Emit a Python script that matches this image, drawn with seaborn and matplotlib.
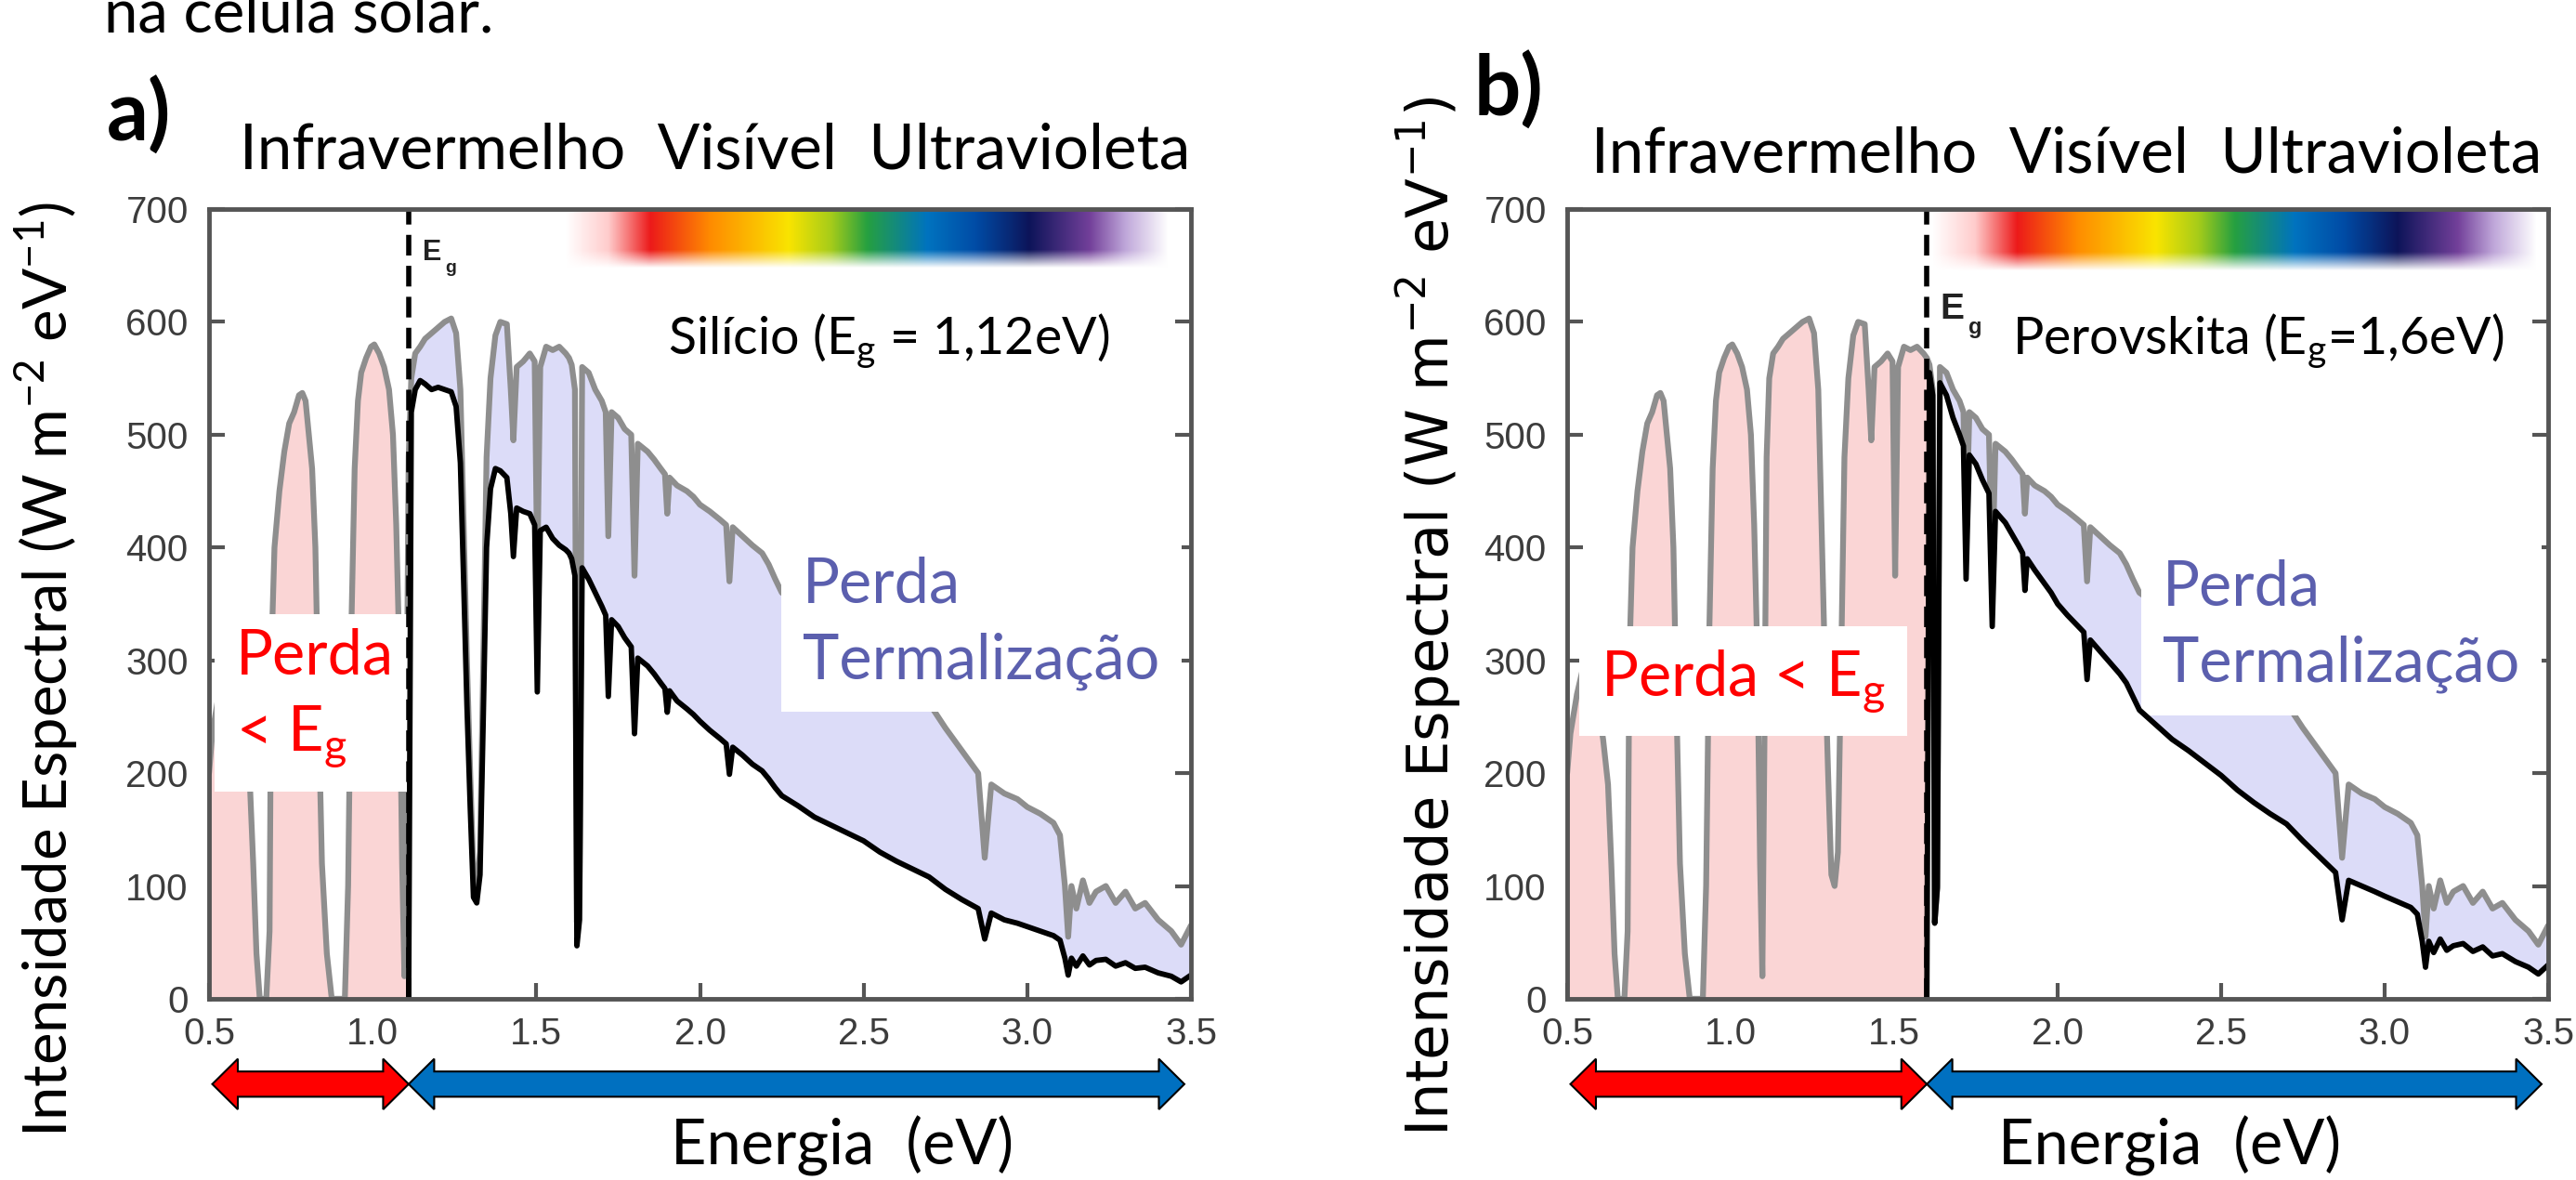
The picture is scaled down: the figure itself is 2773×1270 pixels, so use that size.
import numpy as np
import matplotlib
matplotlib.use("Agg")
import matplotlib.pyplot as plt
import matplotlib.transforms as mtransforms
from matplotlib.patches import Polygon
from matplotlib.colors import to_rgb
import seaborn as sns

# ---------------- data ----------------
ENERGY = np.array([
    0.500, 0.510, 0.530, 0.550, 0.570, 0.590, 0.610, 0.625, 0.635, 0.645,
    0.655, 0.675, 0.685, 0.690, 0.700, 0.715, 0.730, 0.745, 0.760, 0.775,
    0.785, 0.795, 0.805, 0.815, 0.825, 0.835, 0.845, 0.860, 0.875, 0.915,
    0.925, 0.935, 0.945, 0.955, 0.965, 0.980, 0.995, 1.005, 1.020, 1.035,
    1.050, 1.062, 1.072, 1.082, 1.090, 1.097, 1.104, 1.110, 1.118, 1.130,
    1.145, 1.160, 1.180, 1.200, 1.220, 1.240, 1.255, 1.268, 1.278, 1.288,
    1.298, 1.308, 1.318, 1.328, 1.338, 1.348, 1.360, 1.375, 1.390, 1.410,
    1.422, 1.430, 1.440, 1.460, 1.480, 1.495, 1.503, 1.512, 1.530, 1.550,
    1.570, 1.590, 1.600, 1.608, 1.618, 1.624, 1.632, 1.640, 1.660, 1.680,
    1.700, 1.712, 1.720, 1.730, 1.750, 1.770, 1.790, 1.800, 1.810, 1.840,
    1.860, 1.880, 1.893, 1.900, 1.907, 1.930, 1.960, 1.980, 2.000, 2.030,
    2.060, 2.080, 2.090, 2.100, 2.130, 2.160, 2.190, 2.210, 2.230, 2.250,
    2.300, 2.350, 2.400, 2.450, 2.500, 2.550, 2.600, 2.650, 2.700, 2.750,
    2.800, 2.850, 2.870, 2.890, 2.930, 2.970, 3.000, 3.040, 3.080, 3.100,
    3.115, 3.125, 3.135, 3.150, 3.170, 3.190, 3.210, 3.240, 3.270, 3.300,
    3.330, 3.360, 3.400, 3.440, 3.470, 3.500,
])

# incident solar spectrum (grey curve), same in both panels
GRAY = np.array([
    200, 235, 270, 295, 290, 268, 230, 190, 120, 40,
    0, 0, 60, 300, 400, 450, 485, 510, 520, 535,
    537, 530, 500, 470, 400, 250, 120, 40, 0, 0,
    100, 330, 470, 530, 555, 568, 578, 580, 572, 560,
    540, 500, 420, 300, 120, 20, 250, 480, 550, 572,
    578, 585, 590, 595, 600, 603, 590, 540, 420, 300,
    200, 110, 100, 130, 300, 480, 550, 588, 600, 598,
    540, 495, 560, 565, 572, 565, 375, 560, 578, 575,
    578, 572, 568, 562, 540, 68, 100, 560, 555, 540,
    530, 520, 410, 520, 515, 505, 500, 375, 492, 485,
    478, 470, 465, 430, 462, 455, 450, 445, 438, 432,
    425, 420, 370, 418, 410, 402, 395, 385, 372, 360,
    350, 338, 330, 320, 310, 295, 283, 272, 262, 240,
    220, 200, 125, 190, 182, 177, 170, 164, 156, 145,
    100, 55, 100, 80, 105, 85, 95, 100, 85, 95,
    80, 85, 70, 60, 48, 65,
], dtype=float)

nan = np.nan
# usable part for silicon (black curve, panel a)
BLACK_A = np.array([
    nan, nan, nan, nan, nan, nan, nan, nan, nan, nan,
    nan, nan, nan, nan, nan, nan, nan, nan, nan, nan,
    nan, nan, nan, nan, nan, nan, nan, nan, nan, nan,
    nan, nan, nan, nan, nan, nan, nan, nan, nan, nan,
    nan, nan, nan, nan, nan, nan, nan, 0, 520, 540,
    548, 545, 540, 542, 540, 538, 525, 475, 370, 260,
    170, 90, 85, 110, 250, 400, 452, 470, 468, 462,
    430, 392, 435, 432, 430, 420, 272, 415, 418, 408,
    402, 398, 395, 390, 375, 47, 70, 382, 372, 360,
    348, 340, 268, 336, 330, 320, 312, 235, 302, 295,
    288, 280, 275, 254, 273, 264, 257, 252, 246, 238,
    231, 226, 199, 223, 216, 208, 202, 195, 187, 180,
    171, 161, 154, 147, 140, 130, 122, 115, 108, 97,
    88, 80, 53, 76, 70, 67, 64, 60, 56, 52,
    36, 21, 36, 29, 38, 30, 34, 35, 29, 32,
    27, 28, 23, 20, 15, 21,
])

# usable part for perovskite (black curve, panel b)
BLACK_B = np.array([
    nan, nan, nan, nan, nan, nan, nan, nan, nan, nan,
    nan, nan, nan, nan, nan, nan, nan, nan, nan, nan,
    nan, nan, nan, nan, nan, nan, nan, nan, nan, nan,
    nan, nan, nan, nan, nan, nan, nan, nan, nan, nan,
    nan, nan, nan, nan, nan, nan, nan, nan, nan, nan,
    nan, nan, nan, nan, nan, nan, nan, nan, nan, nan,
    nan, nan, nan, nan, nan, nan, nan, nan, nan, nan,
    nan, nan, nan, nan, nan, nan, nan, nan, nan, nan,
    nan, nan, 0, 555, 535, 67, 98, 546, 535, 515,
    500, 490, 372, 482, 474, 460, 448, 330, 432, 422,
    412, 402, 395, 362, 390, 380, 368, 360, 350, 340,
    331, 325, 283, 318, 308, 298, 288, 280, 268, 256,
    243, 230, 220, 209, 198, 185, 174, 164, 155, 140,
    126, 112, 70, 105, 100, 95, 91, 86, 81, 75,
    51, 28, 51, 41, 53, 43, 47, 49, 42, 46,
    38, 40, 33, 28, 22, 30,
])

EG_A = 1.11          # band gap line, silicon
EG_B = 1.60          # band gap line, perovskite
X_TICKS = [0.5, 1.0, 1.5, 2.0, 2.5, 3.0, 3.5]
Y_TICKS = [0, 100, 200, 300, 400, 500, 600, 700]
X_TICK_LABELS = ["0.5", "1.0", "1.5", "2.0", "2.5", "3.0", "3.5"]
Y_TICK_LABELS = ["0", "100", "200", "300", "400", "500", "600", "700"]

# ---------------- style ----------------
sns.set_style("white")
plt.rcParams["font.family"] = ["Lato", "DejaVu Sans"]
plt.rcParams["mathtext.fontset"] = "custom"
plt.rcParams["mathtext.rm"] = "Lato"
plt.rcParams["mathtext.it"] = "Lato:italic"
plt.rcParams["mathtext.bf"] = "Lato:bold"

C_GRAY = "#8e8e8e"
C_PINK = "#fad5d5"
C_LAV = "#dcdcf8"
C_BLUE_TXT = "#5b5fae"
C_SPINE = "#555555"
C_TICK_TXT = "#3c3c3c"

W, H = 2773, 1270
fig = plt.figure(figsize=(W / 100, H / 100), dpi=100)
fig.patch.set_facecolor("white")


def fig_rect(l, t, r, b):
    return [l / W, 1 - b / H, (r - l) / W, (b - t) / H]


ax_a = fig.add_axes(fig_rect(225, 225, 1282, 1075))
ax_b = fig.add_axes(fig_rect(1687, 225, 2743, 1075))

# spectrum colour bar
SPEC_STOPS = [0.00, 0.07, 0.14, 0.24, 0.37, 0.44, 0.50, 0.60, 0.68, 0.77, 0.87, 0.93, 1.00]
SPEC_COLS = ["#ffffff", "#ffcccc", "#ec1a1a", "#ff8c00", "#f9e400", "#a6cc1a",
             "#26a040", "#0073bf", "#004ca6", "#0d1459", "#73409a", "#c0a8da", "#ffffff"]


def spectrum_image(ncols=600, nrows=40):
    pos = np.linspace(0, 1, ncols)
    cols = np.array([to_rgb(c) for c in SPEC_COLS])
    rgb = np.stack([np.interp(pos, SPEC_STOPS, cols[:, k]) for k in range(3)], axis=-1)
    img = np.ones((nrows, ncols, 4))
    img[:, :, :3] = rgb[None, :, :]
    rows = np.linspace(0, 1, nrows)
    alpha = np.clip((1.0 - rows) / 0.3, 0, 1)
    img[:, :, 3] = alpha[:, None]
    return img


def double_arrow(ax, x0, x1, color):
    trans = mtransforms.blended_transform_factory(ax.transData, ax.transAxes)
    yc, hw, sw, hl = -0.108, 0.032, 0.016, 0.078
    pts = [(x0, yc), (x0 + hl, yc + hw), (x0 + hl, yc + sw), (x1 - hl, yc + sw),
           (x1 - hl, yc + hw), (x1, yc), (x1 - hl, yc - hw), (x1 - hl, yc - sw),
           (x0 + hl, yc - sw), (x0 + hl, yc - hw)]
    ax.add_patch(Polygon(pts, closed=True, transform=trans, facecolor=color,
                         edgecolor="black", linewidth=1.5, clip_on=False, zorder=6))


def draw_panel(ax, eg, black, bar_extent, eg_lbl, ylabel_cfg, xlabel_x, title_cfg):
    below = ENERGY <= eg + 1e-9
    above = ~np.isnan(black)
    ax.fill_between(ENERGY[below], 0, GRAY[below], color=C_PINK, linewidth=0, zorder=1)
    ax.fill_between(ENERGY[above], black[above], GRAY[above], color=C_LAV, linewidth=0, zorder=1)
    sns.lineplot(x=ENERGY, y=GRAY, ax=ax, color=C_GRAY, linewidth=4.5,
                 estimator=None, sort=False, zorder=2)
    sns.lineplot(x=ENERGY[above], y=black[above], ax=ax, color="black", linewidth=4.2,
                 estimator=None, sort=False, zorder=4)
    ax.axvline(eg, color="black", linewidth=4, dashes=(4, 2), zorder=4)
    ax.imshow(spectrum_image(), extent=bar_extent, aspect="auto", origin="upper",
              interpolation="bilinear", zorder=1.5)
    ax.set_xlim(0.5, 3.5)
    ax.set_ylim(0, 700)
    ax.set_xticks(X_TICKS, X_TICK_LABELS)
    ax.set_yticks(Y_TICKS, Y_TICK_LABELS)
    ax.tick_params(axis="both", direction="in", length=12, width=3, color=C_SPINE,
                   labelsize=29, labelcolor=C_TICK_TXT, labelfontfamily="Liberation Sans")
    ax.tick_params(axis="y", left=True, right=True, pad=16)
    ax.tick_params(axis="x", bottom=True, top=False, pad=14)
    for s in ax.spines.values():
        s.set_color(C_SPINE)
        s.set_linewidth(3.5)
        s.set_zorder(7)
    # band-gap label
    (ex, ey, esize), (gx, gy, gsize) = eg_lbl
    ax.text(ex, ey, "E", fontsize=esize, fontweight="bold", family="Liberation Sans",
            color="#222222", va="baseline", ha="left", zorder=5)
    ax.text(gx, gy, "g", fontsize=gsize, fontweight="bold", family="Liberation Sans",
            color="#222222", va="baseline", ha="left", zorder=5)
    # arrows below the axis
    double_arrow(ax, 0.51, eg, "#ff0000")
    double_arrow(ax, eg, 3.48, "#0070c0")
    # axis labels
    ylab, yfam, ysize, yx, yy = ylabel_cfg
    ax.set_ylabel(ylab, fontsize=ysize, family=yfam, color="black")
    ax.yaxis.set_label_coords(yx, yy)
    ax.yaxis.label.set_va("center")
    ax.yaxis.label.set_ha("center")
    ax.set_xlabel("Energia  (eV)", fontsize=48, color="black")
    ax.xaxis.set_label_coords(xlabel_x, -0.186)
    ax.xaxis.label.set_va("center")
    tx, ty = title_cfg
    ax.text(tx, ty, "Infravermelho  Visível  Ultravioleta", transform=ax.transAxes,
            fontsize=48.5, ha="center", va="baseline", color="black", clip_on=False)


YLAB = r"Intensidade Espectral (W m$^{-2}$ eV$^{-1}$)"

draw_panel(ax_a, EG_A, BLACK_A, [1.59, 3.43, 647, 700],
           ((1.153, 655, 22), (1.222, 644, 14)),
           (YLAB, ["Lato", "DejaVu Sans"], 47, -0.1656, 0.4176),
           0.645, (0.5156, 1.0506))
draw_panel(ax_b, EG_B, BLACK_B, [1.617, 3.465, 645, 700],
           ((1.639, 603, 28), (1.726, 590, 17)),
           (YLAB, ["DejaVu Sans"], 45, -0.1411, 0.4847),
           0.614, (0.5095, 1.0459))
ax_b.yaxis.label.set_math_fontfamily("dejavusans")

# ---- annotations inside panel a ----
# (for two-line labels the y value is the baseline of the last line)
ax_a.text(1.902, 571, r"Silício (E$_\mathrm{g}$ = 1,12eV)", fontsize=40,
          ha="left", va="baseline", color="black", zorder=5)
ax_a.text(2.314, 284, "Perda\nTermalização", fontsize=48, color=C_BLUE_TXT,
          ha="left", va="baseline", linespacing=1.4, zorder=3.5,
          bbox=dict(boxstyle="square,pad=0.35", facecolor="white", edgecolor="none"))
ax_a.text(0.582, 220, "Perda\n< E$_\\mathrm{g}$", fontsize=48, color="#ff0000",
          ha="left", va="baseline", linespacing=1.4, zorder=3.5,
          bbox=dict(boxstyle="square,pad=0.35", facecolor="white", edgecolor="none"))

# ---- annotations inside panel b ----
ax_b.text(1.861, 571, r"Perovskita (E$_\mathrm{g}$=1,6eV)", fontsize=40,
          ha="left", va="baseline", color="black", zorder=5)
ax_b.text(2.321, 281, "Perda\nTermalização", fontsize=48, color=C_BLUE_TXT,
          ha="left", va="baseline", linespacing=1.4, zorder=3.5,
          bbox=dict(boxstyle="square,pad=0.35", facecolor="white", edgecolor="none"))
ax_b.text(0.602, 269, "Perda < E$_\\mathrm{g}$", fontsize=48, color="#ff0000",
          ha="left", va="baseline", zorder=3.5,
          bbox=dict(boxstyle="square,pad=0.35", facecolor="white", edgecolor="none"))

# ---- figure-level texts ----
fig.text(112 / W, 1 - 35 / H, "na célula solar.", fontsize=47, ha="left",
         va="baseline", color="black")
fig.text(150 / W, 1 - 124 / H, "a)", fontsize=64, fontweight="bold",
         ha="center", va="center", color="black")
fig.text(1624 / W, 1 - 97 / H, "b)", fontsize=64, fontweight="bold",
         ha="center", va="center", color="black")

fig.savefig("out.png", dpi=100, facecolor="white")
